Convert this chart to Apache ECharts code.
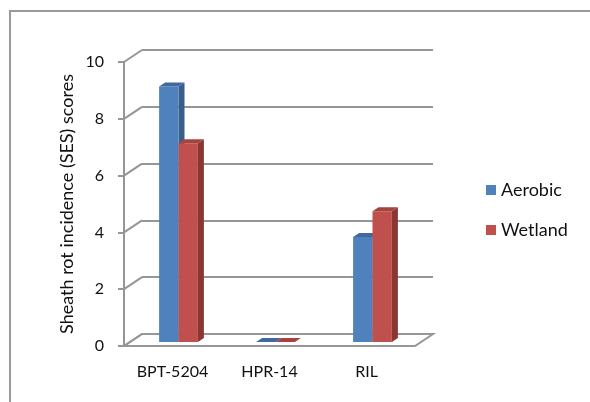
<!DOCTYPE html>
<html>
<head>
<meta charset="utf-8">
<script src="https://cdn.jsdelivr.net/npm/echarts@6/dist/echarts.min.js"></script>
<style>
  html, body { margin: 0; padding: 0; background: #fff; }
  #chart { width: 590px; height: 402px; }
</style>
</head>
<body>
<div id="chart"></div>
<script>
// Sheath rot incidence by genotype under two growing systems
const categories = ['BPT-5204', 'HPR-14', 'RIL'];
const aerobic = [9, 0, 3.7];
const wetland = [7, 0, 4.6];
const yTicks = [0, 2, 4, 6, 8, 10];

const FONT = 'Lato, "Liberation Sans", sans-serif';
const TEXT = '#111';
const GRID_LINE = '#969696';

// depth of the back wall relative to the front plane (pseudo 3D)
const DEPTH_X = 18, DEPTH_Y = -12;
// bars sit one third into the depth and are one third deep
const BAR_SHIFT_X = 6, BAR_SHIFT_Y = -4;
const BAR_DX = 6, BAR_DY = -4;

const palette = [
  { front: '#4f81bd', side: '#395e8c', top: '#4169a0' },
  { front: '#c0504d', side: '#8a3634', top: '#a5433f' }
];

function barRenderer(k) {
  return function (params, api) {
    const cat = api.value(0);
    const val = api.value(1);
    const band = api.size([1, 0])[0];
    const w = band * 0.2;
    const base = api.coord([cat, 0]);
    const top = api.coord([cat, val]);
    const x0 = base[0] + (k === 0 ? -w : 0) + BAR_SHIFT_X;
    const x1 = x0 + w;
    const yb = base[1] + BAR_SHIFT_Y;
    const yt = top[1] + BAR_SHIFT_Y;
    const c = palette[k];
    const children = [];
    if (yb - yt > 0.5) {
      children.push({
        type: 'polygon',
        shape: { points: [[x1, yt], [x1 + BAR_DX, yt + BAR_DY], [x1 + BAR_DX, yb + BAR_DY], [x1, yb]] },
        style: { fill: c.side }
      });
      children.push({
        type: 'rect',
        shape: { x: x0, y: yt, width: w, height: yb - yt },
        style: { fill: c.front }
      });
    }
    children.push({
      type: 'polygon',
      shape: { points: [[x0, yt], [x1, yt], [x1 + BAR_DX, yt + BAR_DY], [x0 + BAR_DX, yt + BAR_DY]] },
      style: { fill: c.top }
    });
    return { type: 'group', children: children };
  };
}

// floor plate and the connectors between the front axis and the back wall
function wallRenderer(params, api) {
  const v = api.value(1);
  const cs = params.coordSys;
  const p = api.coord([0, v]);
  const xl = cs.x, xr = cs.x + cs.width;
  const y = p[1];
  const children = [{
    type: 'line',
    shape: { x1: xl, y1: y, x2: xl + DEPTH_X, y2: y + DEPTH_Y },
    style: { stroke: GRID_LINE, lineWidth: 2 }
  }];
  if (v === 0) {
    children.unshift({
      type: 'polygon',
      shape: { points: [[xl, y], [xr, y], [xr + DEPTH_X, y + DEPTH_Y], [xl + DEPTH_X, y + DEPTH_Y]] },
      style: { fill: '#ffffff', stroke: GRID_LINE, lineWidth: 2 }
    });
  }
  return { type: 'group', children: children };
}

const chart = echarts.init(document.getElementById('chart'), null, { renderer: 'canvas' });

chart.setOption({
  animation: false,
  backgroundColor: '#ffffff',
  graphic: [{
    type: 'rect',
    shape: { x: 10, y: 11, width: 620, height: 430 },
    style: { fill: 'none', stroke: '#9a9a9a', lineWidth: 2 },
    silent: true,
    z: -10
  }],
  legend: {
    orient: 'vertical',
    left: 481,
    top: 176,
    itemWidth: 10,
    itemHeight: 10,
    itemGap: 22,
    icon: 'rect',
    textStyle: { fontFamily: FONT, fontSize: 18, color: TEXT },
    data: ['Aerobic', 'Wetland']
  },
  grid: [
    // front plane: axis labels, bars
    { left: 124, right: 175, top: 62, bottom: 56 },
    // back wall: gridlines
    { left: 142, right: 157, top: 50, bottom: 68 }
  ],
  xAxis: [
    {
      type: 'category',
      gridIndex: 0,
      data: categories,
      axisLine: { show: false },
      axisTick: { show: false },
      axisLabel: { margin: 18, fontFamily: FONT, fontSize: 16, color: TEXT }
    },
    {
      type: 'category',
      gridIndex: 1,
      data: categories,
      show: false
    }
  ],
  yAxis: [
    {
      type: 'value',
      gridIndex: 0,
      min: 0, max: 10, interval: 2,
      axisLine: { show: true, lineStyle: { color: GRID_LINE, width: 2 } },
      axisTick: { show: true, length: 6, lineStyle: { color: GRID_LINE, width: 2 } },
      splitLine: { show: false },
      axisLabel: { margin: 20, fontFamily: FONT, fontSize: 16, color: TEXT },
      name: 'Sheath rot incidence (SES) scores',
      nameLocation: 'middle',
      nameGap: 48,
      nameTextStyle: { fontFamily: FONT, fontSize: 18, color: TEXT }
    },
    {
      type: 'value',
      gridIndex: 1,
      min: 0, max: 10, interval: 2,
      axisLine: { show: false },
      axisTick: { show: false },
      axisLabel: { show: false },
      splitLine: { show: true, lineStyle: { color: GRID_LINE, width: 2 } }
    }
  ],
  series: [
    {
      type: 'custom',
      name: 'wall',
      xAxisIndex: 0, yAxisIndex: 0,
      renderItem: wallRenderer,
      data: yTicks.map(function (t) { return [0, t]; }),
      silent: true,
      z: 1
    },
    {
      type: 'custom',
      name: 'Aerobic',
      xAxisIndex: 0, yAxisIndex: 0,
      itemStyle: { color: palette[0].front },
      renderItem: barRenderer(0),
      data: aerobic.map(function (v, i) { return [i, v]; }),
      z: 3
    },
    {
      type: 'custom',
      name: 'Wetland',
      xAxisIndex: 0, yAxisIndex: 0,
      itemStyle: { color: palette[1].front },
      renderItem: barRenderer(1),
      data: wetland.map(function (v, i) { return [i, v]; }),
      z: 4
    }
  ]
});
</script>
</body>
</html>
